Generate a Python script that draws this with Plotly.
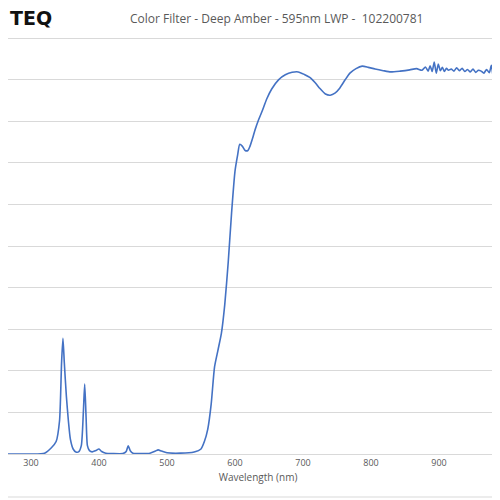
import plotly.graph_objects as go

wavelength = [250,300,320,330,337,342,345,347,349,352,355,358,362,366,370,374,377,379,381,383,386,390,395,400,404,410,420,435,440,443,446,450,460,475,483,487,492,500,520,540,550,555,560,565,570,575,580,585,590,595,600,604,607,611,615,619,622,626,629,635,640,647,654,664,674,684,693,702,710,718,725,733,740,747,754,762,769,778,787,796,806,818,829,843,857,867,875,880,884,887,890,893,896,899,902,905,908,911,914,918,922,926,930,934,938,942,946,950,954,958,962,966,970,974,977,980,983,986,990,995,1000]
transmission = [0,0,0.2,1.5,3,8,22,27.8,22,14,8,3.5,1.2,0.5,0.5,2,10,16.8,9,2,0.8,0.5,0.8,1.2,0.6,0.2,0.1,0.1,0.6,2,0.8,0.2,0.1,0.2,0.7,1,0.7,0.3,0.2,0.5,1.2,3,6,12,21,25,29,36,46,58,68,72,74.5,74,73,73,74,76,77.7,80.5,82.5,85.5,87.8,90,91.2,91.8,91.9,91.3,90.6,89.3,87.9,86.6,86.3,86.8,88,90,91.6,92.7,93.3,93,92.6,92.2,91.9,92.1,92.4,92.7,92.3,93.1,92.1,93.4,92.0,94.3,91.6,93.8,92.2,93.0,92.0,92.8,92.3,92.6,92.1,92.9,92.2,92.8,92.0,92.5,91.9,92.6,91.8,92.3,92.1,91.6,92.5,91.7,93.5,90.6,92.6,91.4,91.8,91.6,91.5]

T, B = 29, 54
H = 500 - T - B
def py(px):
    return (500 - px - B) / H

fig = go.Figure(go.Scatter(x=wavelength, y=transmission, mode="lines",
                           line=dict(color="#4472C4", width=1.6, shape="spline", smoothing=0.6),
                           showlegend=False, hoverinfo="skip"))

fig.update_layout(
    width=500, height=500, paper_bgcolor="white", plot_bgcolor="white",
    margin=dict(l=0, r=0, t=T, b=B, autoexpand=False),
    font=dict(family="Open Sans, DejaVu Sans", color="#595959"),
    xaxis=dict(range=[266.2, 1001.5], tickvals=[300,400,500,600,700,800,900,1000], automargin=False,
               showgrid=False, showline=True, linecolor="#D9D9D9", ticks="",
               tickfont=dict(size=9, color="#595959"),
               title=dict(text="Wavelength (nm)", font=dict(size=10, color="#595959"), standoff=6)),
    yaxis=dict(range=[0, 100.3], dtick=10, showticklabels=False, gridcolor="#D9D9D9",
               gridwidth=1, zeroline=False, automargin=False),
    annotations=[
        dict(text="Color Filter - Deep Amber - 595nm LWP -  102200781", x=268/500, y=py(10),
             xref="paper", yref="paper", showarrow=False,
             font=dict(size=12, color="#595959"), xanchor="center", yanchor="middle"),
        dict(text="<b>TEQ</b>", x=0, y=py(10), xref="paper", yref="paper", showarrow=False,
             xanchor="left", yanchor="middle",
             font=dict(size=19, color="#111111", family="DejaVu Sans")),
    ],
)
fig.add_shape(type="line", xref="paper", yref="paper", x0=0, x1=1, y0=py(489), y1=py(489),
              line=dict(color="#D9D9D9", width=1))
fig.write_html("out.html")
